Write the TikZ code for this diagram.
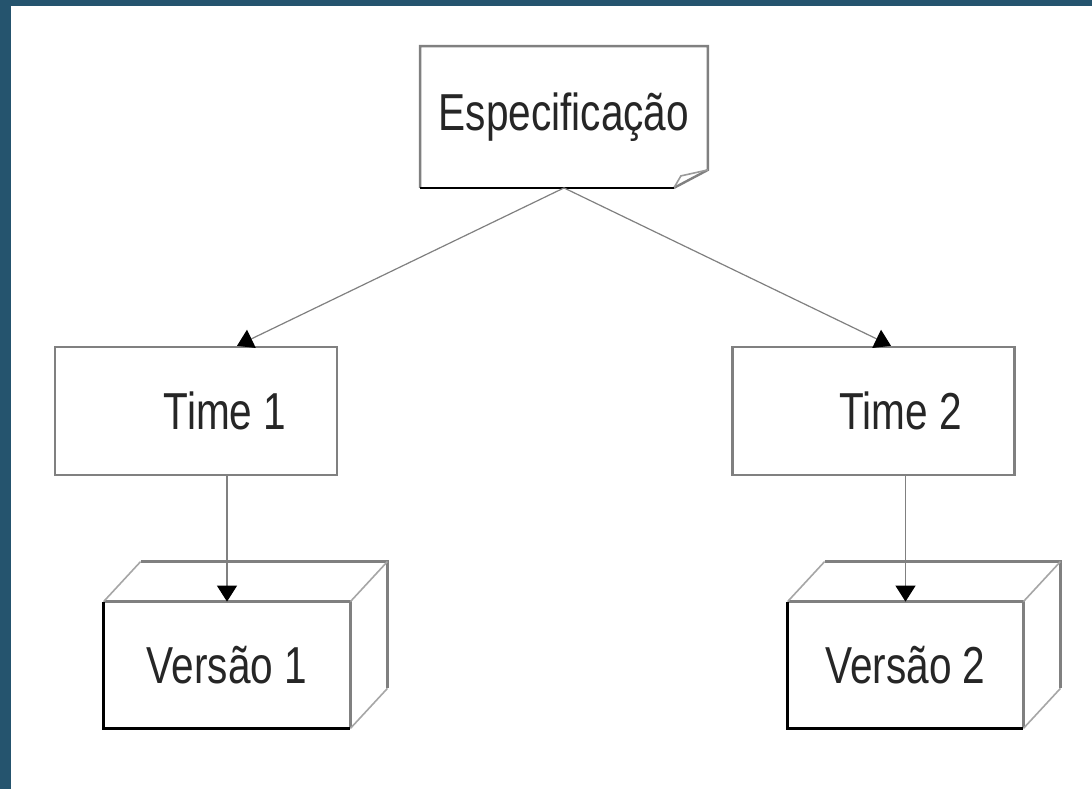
\documentclass[tikz,border=0pt]{standalone}
\usepackage{fontspec}
\setmainfont{Liberation Sans}[FakeStretch=0.78]
\usetikzlibrary{arrows.meta}
\tikzset{>={Triangle[width=10pt,length=8pt,color=black]}}
\definecolor{slideblue}{HTML}{25546E}
\definecolor{edgegray}{HTML}{808080}
\tikzset{
  boxtext/.style={font=\fontsize{26}{30}\selectfont, text=black!85},
  team/.style={draw=edgegray, line width=1.2pt, minimum width=141pt, minimum height=64pt},
  version/.style={boxtext, minimum height=63pt},
  edge/.style={draw=edgegray, line width=1.2pt},
  link/.style={draw=edgegray, line width=0.6pt}
}

\begin{document}
\begin{tikzpicture}[x=0.5pt, y=-0.5pt]
    % slide background
    \fill[slideblue] (0,0) rectangle (1092,789);
    \fill[white] (11,6) rectangle (1092,789);

    \node[boxtext, minimum width=143.5pt, minimum height=70.5pt] (spec) at (564,117) {Especificação};

    \node[team] (time-1) at (196,411) {};
    \node[boxtext] (time-1-text) at ([xshift=14.5pt]time-1.center) {Time 1};
    \node[team] (time-2) at (873.5,411) {};
    \node[boxtext] (time-2-text) at ([xshift=13.5pt]time-2.center) {Time 2};

    \node[version, minimum width=123pt] (versao-1) at (227,665) {Versão 1};
    \node[version, minimum width=117.5pt] (versao-2) at (905.5,665) {Versão 2};

    % note with folded corner
    \draw[edge] (spec.south west) -- (spec.north west) -- (spec.north east)
        -- ([yshift=9pt]spec.south east) -- ([xshift=-17pt]spec.south east);
    \draw[edgegray!80, line width=0.8pt] ([xshift=-17pt]spec.south east)
        -- ([xshift=-13.5pt,yshift=6pt]spec.south east) -- ([yshift=9pt]spec.south east);
    \draw[black, line width=1.4pt] (spec.south west) -- ([xshift=-17pt]spec.south east);

    % boxes with depth
    \foreach \v in {versao-1,versao-2} {
        \draw[edge] (\v.south east) -- (\v.north east) -- (\v.north west);
        \draw[edge] ([shift={(18.5pt,20pt)}]\v.north west)
            -- ([shift={(18.5pt,20pt)}]\v.north east)
            -- ([shift={(18.5pt,20pt)}]\v.south east);
        \draw[edgegray!70, line width=0.8pt] (\v.north west) -- +(18.5pt,20pt);
        \draw[edgegray!70, line width=0.8pt] (\v.north east) -- +(18.5pt,20pt);
        \draw[edgegray!70, line width=0.8pt] (\v.south east) -- +(18.5pt,20pt);
        \draw[black, line width=1.6pt] (\v.north west) -- (\v.south west) -- (\v.south east);
    }

    \draw[link, ->] (spec.south) -- ([xshift=20.5pt]time-1.north);
    \draw[link, ->] (spec.south) -- ([xshift=8.75pt]time-2.north);
    \draw[link, ->] (time-1.south -| versao-1.north) -- (versao-1.north);
    \draw[link, ->] (time-2.south -| versao-2.north) -- (versao-2.north);

\end{tikzpicture}
\end{document}
